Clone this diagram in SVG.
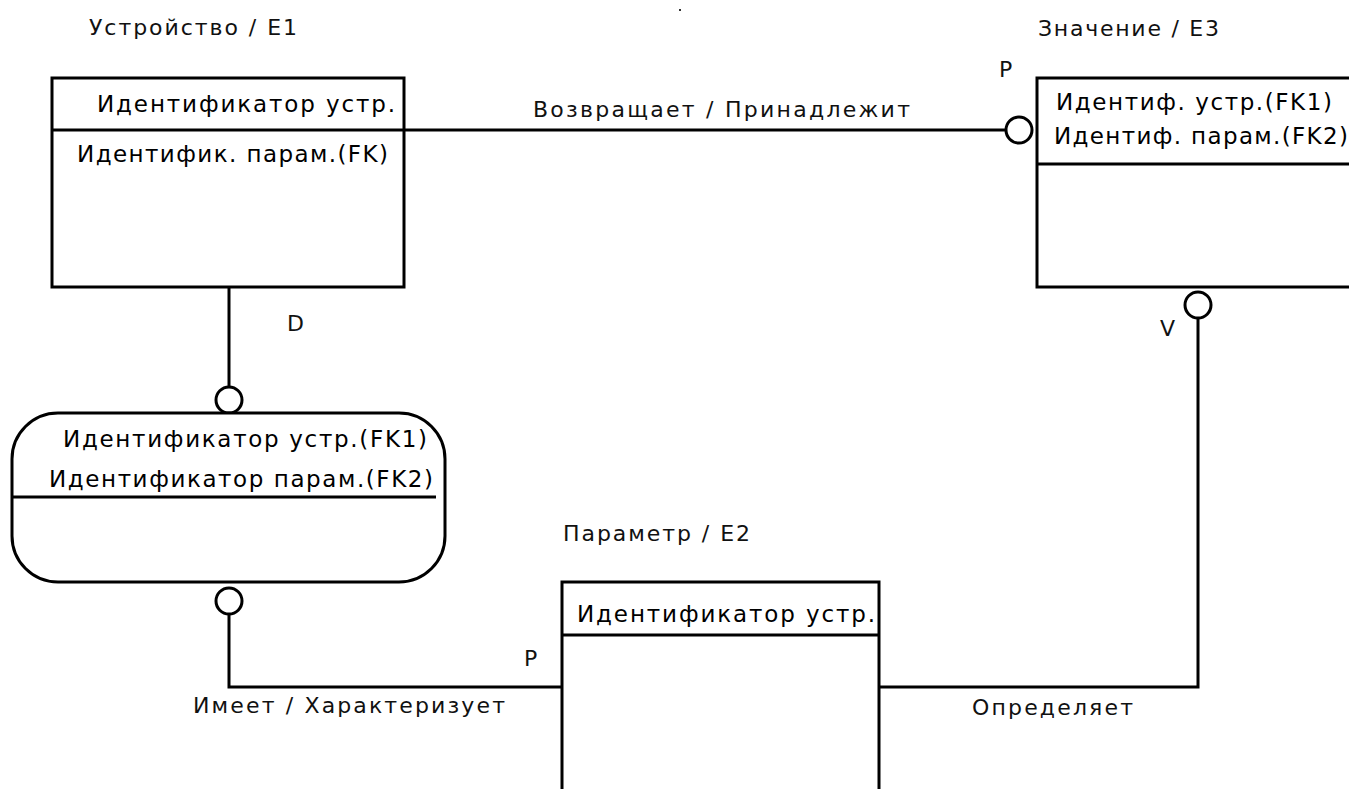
<svg xmlns="http://www.w3.org/2000/svg" width="1349" height="789" viewBox="0 0 1349 789">
<style>
.box{fill:#fff;stroke:#000;stroke-width:3}
.ln{fill:none;stroke:#000;stroke-width:3}
.cir{fill:#fff;stroke:#000;stroke-width:3}
text{font-family:"DejaVu Sans","Noto Sans",sans-serif;font-size:23px;fill:#000}
.t{font-size:22px;fill:#111}
</style>
<rect x="0" y="0" width="1349" height="789" fill="#fff"/>
<rect x="679" y="9" width="2" height="2" fill="#333"/>
<g id="connectors">
<line class="ln" x1="404" y1="130" x2="1006" y2="130"/>
<circle class="cir" cx="1019" cy="130" r="13"/>
<line class="ln" x1="229" y1="287" x2="229" y2="387"/>
<circle class="cir" cx="229" cy="400" r="13"/>
<polyline class="ln" points="229,614 229,687 562,687"/>
<circle class="cir" cx="229" cy="601" r="13"/>
<polyline class="ln" points="879,687 1198,687 1198,318"/>
<circle class="cir" cx="1198" cy="305" r="13"/>
<text class="t" x="533" y="117" textLength="377">Возвращает / Принадлежит</text>
<text class="t" x="999" y="77">P</text>
<text class="t" x="287" y="331">D</text>
<text class="t" x="1160" y="336">V</text>
<text class="t" x="524" y="666">P</text>
<text class="t" x="193" y="713" textLength="312">Имеет / Характеризует</text>
<text class="t" x="972" y="715" textLength="161">Определяет</text>
</g>
<g id="e1">
<text class="t" x="89" y="35" textLength="208">Устройство / E1</text>
<rect class="box" x="52" y="78" width="352" height="209"/>
<line class="ln" x1="52" y1="130" x2="404" y2="130"/>
<text x="97" y="112" textLength="298">Идентификатор устр.</text>
<text x="77" y="162" textLength="311">Идентифик. парам.(FK)</text>
</g>
<g id="e3">
<text class="t" x="1038" y="36" textLength="181">Значение / E3</text>
<rect class="box" x="1037" y="78" width="330" height="209"/>
<line class="ln" x1="1037" y1="164" x2="1367" y2="164"/>
<text x="1056" y="110" textLength="276">Идентиф. устр.(FK1)</text>
<text x="1054" y="144" textLength="294">Идентиф. парам.(FK2)</text>
</g>
<g id="e4">
<rect class="box" x="12" y="413" width="433" height="169" rx="46" ry="46"/>
<line class="ln" x1="13" y1="497" x2="436" y2="497"/>
<text x="63" y="447" textLength="364">Идентификатор устр.(FK1)</text>
<text x="49" y="487" textLength="384">Идентификатор парам.(FK2)</text>
</g>
<g id="e2">
<text class="t" x="563" y="541" textLength="187">Параметр / E2</text>
<rect class="box" x="562" y="582" width="317" height="220"/>
<line class="ln" x1="562" y1="635" x2="879" y2="635"/>
<text x="577" y="622" textLength="298">Идентификатор устр.</text>
</g>
</svg>
